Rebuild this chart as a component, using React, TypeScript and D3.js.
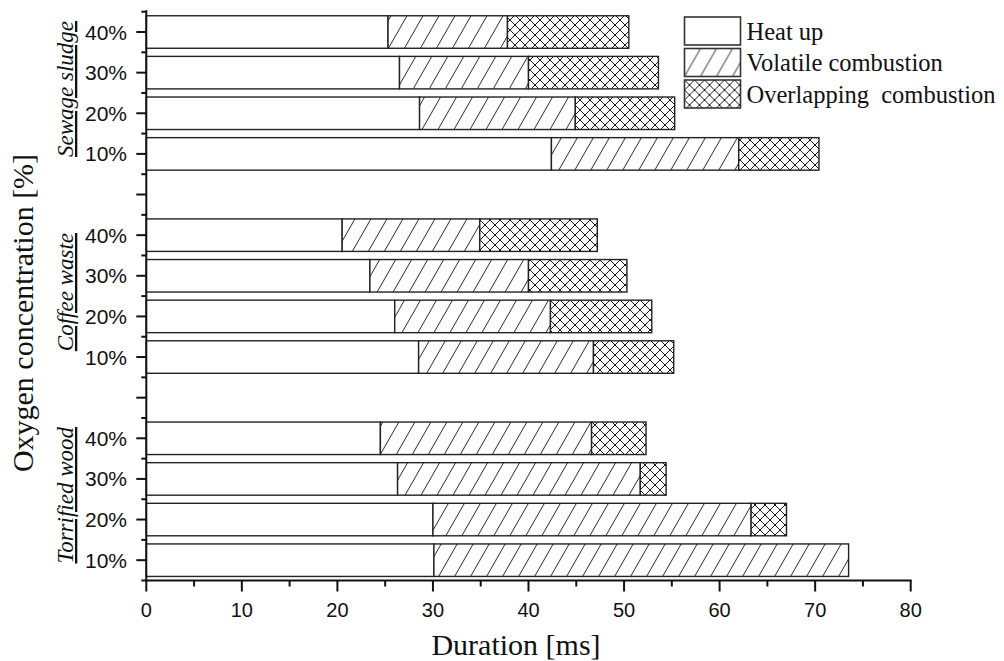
import React from "react";
import * as d3 from "d3";

// ---- data (durations in ms) ----
const slots = [
  "SS-40", "SS-30", "SS-20", "SS-10", "gap1",
  "CW-40", "CW-30", "CW-20", "CW-10", "gap2",
  "TW-40", "TW-30", "TW-20", "TW-10",
];
const slotLabels = ["40%", "30%", "20%", "10%", "", "40%", "30%", "20%", "10%", "", "40%", "30%", "20%", "10%"];
const groupNames = ["Sewage sludge", "Coffee waste", "Torrified wood"];
const groupSlots = [["SS-40", "SS-10"], ["CW-40", "CW-10"], ["TW-40", "TW-10"]];

const heatUp: Record<string, number> = {
  "SS-40": 25.3, "SS-30": 26.5, "SS-20": 28.6, "SS-10": 42.4,
  "CW-40": 20.5, "CW-30": 23.4, "CW-20": 26.0, "CW-10": 28.5,
  "TW-40": 24.5, "TW-30": 26.3, "TW-20": 30.0, "TW-10": 30.1,
};
const volatileComb: Record<string, number> = {
  "SS-40": 12.5, "SS-30": 13.5, "SS-20": 16.3, "SS-10": 19.6,
  "CW-40": 14.4, "CW-30": 16.6, "CW-20": 16.3, "CW-10": 18.3,
  "TW-40": 22.1, "TW-30": 25.4, "TW-20": 33.3, "TW-10": 43.4,
};
const overlapComb: Record<string, number> = {
  "SS-40": 12.7, "SS-30": 13.6, "SS-20": 10.4, "SS-10": 8.4,
  "CW-40": 12.3, "CW-30": 10.3, "CW-20": 10.6, "CW-10": 8.4,
  "TW-40": 5.7, "TW-30": 2.7, "TW-20": 3.7, "TW-10": 0,
};
const xTicks = [0, 10, 20, 30, 40, 50, 60, 70, 80];
const xMinorTicks = [5, 15, 25, 35, 45, 55, 65, 75];
const legendItems = [
  { label: "Heat up", fill: "#fff" },
  { label: "Volatile combustion", fill: "url(#hatch)" },
  { label: "Overlapping  combustion", fill: "url(#cross)" },
];

const W = 1004, H = 661;
const x0 = 146.3, x1 = 910.7, yTop = 11.7, yBot = 580.5;

export default function App() {
  const x = d3.scaleLinear().domain([0, 80]).range([x0, x1]);
  const y = d3.scaleBand<string>().domain(slots).range([yTop, yBot]).paddingInner(0.2).paddingOuter(0.1);
  const step = y.step();
  const bw = y.bandwidth();
  const sans = "'Liberation Sans', Arial, sans-serif";
  const serif = "'Liberation Serif', 'Times New Roman', serif";
  const ink = "#111";
  const barStroke = "#222";

  const bars: any[] = [];
  slots.forEach((s) => {
    if (!(s in heatUp)) return;
    const h = heatUp[s], v = volatileComb[s], o = overlapComb[s];
    const segs = [
      { a: 0, b: h, fill: "#fff" },
      { a: h, b: h + v, fill: "url(#hatch)" },
      { a: h + v, b: h + v + o, fill: "url(#cross)" },
    ];
    segs.forEach((g, i) => {
      if (g.b - g.a <= 0) return;
      bars.push(
        <rect key={s + i} x={x(g.a)} y={y(s)!} width={x(g.b) - x(g.a)} height={bw}
          fill={g.fill} stroke={barStroke} strokeWidth={1.4} />
      );
    });
  });

  const yMajor = slots.map((s) => y(s)! + bw / 2);
  const yMinor = d3.range(slots.length + 1).map((i) => yTop + i * step);

  return (
    <svg width={W} height={H} style={{ position: "absolute", left: 0, top: 0, background: "#fff" }}>
      <defs>
        <pattern id="hatch" patternUnits="userSpaceOnUse" width={16} height={28}>
          <rect width={16} height={28} fill="#fff" />
          <line x1={0} y1={28} x2={16} y2={0} stroke="#2a2a2a" strokeWidth={1} />
          <line x1={-1} y1={2} x2={1} y2={-2} stroke="#2a2a2a" strokeWidth={1} />
          <line x1={15} y1={30} x2={17} y2={26} stroke="#2a2a2a" strokeWidth={1} />
        </pattern>
        <pattern id="cross" patternUnits="userSpaceOnUse" width={10} height={10}>
          <rect width={10} height={10} fill="#fff" />
          <line x1={0} y1={0} x2={10} y2={10} stroke="#1a1a1a" strokeWidth={1} />
          <line x1={0} y1={10} x2={10} y2={0} stroke="#1a1a1a" strokeWidth={1} />
        </pattern>
      </defs>

      {bars}

      {/* y axis */}
      <line x1={x0} y1={yTop - 1.5} x2={x0} y2={yBot + 1} stroke={ink} strokeWidth={2} />
      {yMajor.map((v, i) => (
        <line key={"ym" + i} x1={x0 - 10} y1={v} x2={x0} y2={v} stroke={ink} strokeWidth={2} />
      ))}
      {yMinor.map((v, i) => (
        <line key={"yn" + i} x1={x0 - 5} y1={v} x2={x0} y2={v} stroke={ink} strokeWidth={2} />
      ))}
      {slots.map((s, i) =>
        slotLabels[i] ? (
          <text key={"yl" + i} x={127} y={y(s)! + bw / 2} dy="0.36em" textAnchor="end"
            fontFamily={sans} fontSize={21} fill={ink}>{slotLabels[i]}</text>
        ) : null
      )}

      {/* group labels */}
      {groupNames.map((g, i) => {
        const [a, b] = groupSlots[i];
        const cy = (y(a)! + y(b)! + bw) / 2 - 4;
        return (
          <text key={"g" + i} transform={`translate(73,${cy}) rotate(-90)`} textAnchor="middle"
            fontFamily={serif} fontStyle="italic" fontSize={23} fill={ink}
            textDecoration="underline">{g}</text>
        );
      })}

      {/* x axis */}
      <line x1={x0 - 1} y1={yBot} x2={x1 + 1} y2={yBot} stroke={ink} strokeWidth={2} />
      {xTicks.map((t) => (
        <g key={"xt" + t}>
          <line x1={x(t)} y1={yBot} x2={x(t)} y2={yBot + 11} stroke={ink} strokeWidth={2} />
          <text x={x(t)} y={617} textAnchor="middle" fontFamily={sans} fontSize={20} fill={ink}>{t}</text>
        </g>
      ))}
      {xMinorTicks.map((t) => (
        <line key={"xm" + t} x1={x(t)} y1={yBot} x2={x(t)} y2={yBot + 6} stroke={ink} strokeWidth={2} />
      ))}

      {/* axis titles */}
      <text x={516} y={655} textAnchor="middle" fontFamily={serif} fontSize={30} fill={ink}>Duration [ms]</text>
      <text transform={`translate(33,313) rotate(-90)`} textAnchor="middle"
        fontFamily={serif} fontSize={30} fill={ink}>Oxygen concentration [%]</text>

      {/* legend */}
      {legendItems.map((it, i) => (
        <g key={"lg" + i} transform={`translate(684.5,${17 + i * 31.5})`}>
          <rect width={56} height={28} fill={it.fill} stroke="#333" strokeWidth={1.6} />
          <text x={62} y={22.5} fontFamily={serif} fontSize={24.5} fill={ink} style={{ whiteSpace: "pre" }}>{it.label}</text>
        </g>
      ))}
    </svg>
  );
}
